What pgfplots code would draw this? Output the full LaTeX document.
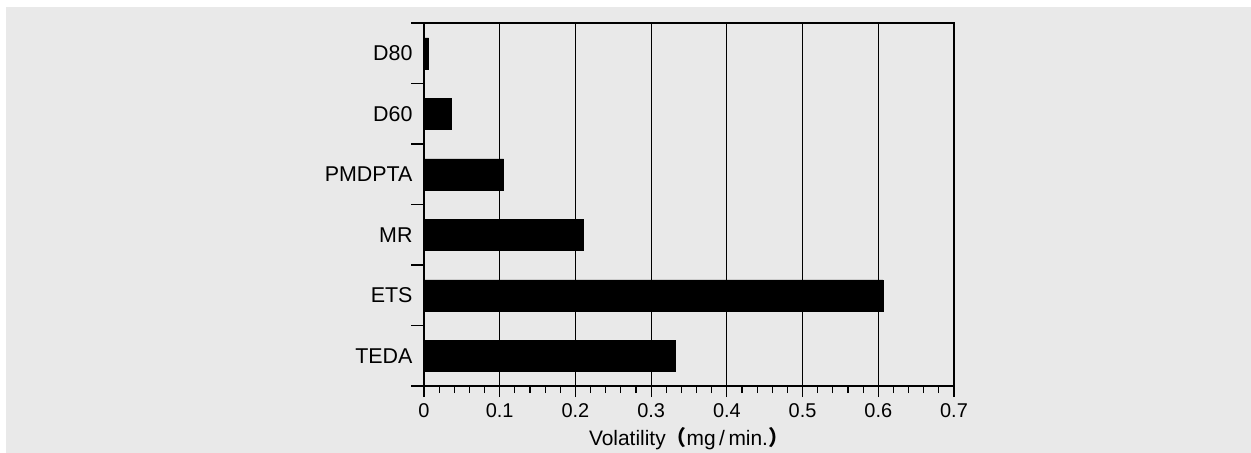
\documentclass[border=0pt]{standalone}
\usepackage{pgfplots}
\pgfplotsset{compat=1.18}
\usepackage{fontspec}
\setmainfont{Liberation Sans}
\newfontfamily\cjk{Noto Sans CJK SC}
\definecolor{bggray}{HTML}{E9E9E9}
\begin{document}
\begin{tikzpicture}
\useasboundingbox (0,0) rectangle (1251bp,453bp);
\fill[white] (0,0) rectangle (1251bp,453bp);
\fill[bggray] (6bp,0) rectangle (1251bp,446bp);
\begin{axis}[
  at={(424bp,67bp)}, anchor=south west,
  scale only axis,
  width=530bp, height=363bp,
  xmin=0, xmax=0.7,
  ymin=-0.5, ymax=5.5,
  xtick={0,0.1,...,0.7},
  xticklabels={0,0.1,0.2,0.3,0.4,0.5,0.6,0.7},
  minor x tick num=4,
  ytick={-0.5,0.5,1.5,2.5,3.5,4.5,5.5},
  yticklabels={TEDA,ETS,MR,PMDPTA,D60,D80,{}},
  yticklabel style={yshift=30.25bp, xshift=3bp, font=\fontsize{21.5}{25}\selectfont},
  xticklabel style={font=\fontsize{20}{24}\selectfont, yshift=-3bp},
  tick align=outside,
  tick pos=left,
  major tick length=11bp,
  minor tick length=7bp,
  xtick style={line width=1.1bp, black},
  ytick style={/pgfplots/major tick length=13bp, line width=1.1bp, black},
  minor x tick style={line width=1.1bp, black},
  xmajorgrids,
  major grid style={line width=1.1bp, black},
  axis line style={line width=1.1bp, black},
  /pgf/number format/assume math mode=true,
  xlabel={Volatility{\cjk\bfseries （}mg\,/\,min.{\cjk\bfseries ）}},
  xlabel style={font=\fontsize{21}{25}\selectfont, yshift=-3bp},
]
\addplot[xbar, bar width=31bp, fill=black, draw=black] coordinates {
  (0.332,0) (0.606,1) (0.210,2) (0.105,3) (0.036,4) (0.006,5)
};
\end{axis}
\end{tikzpicture}
\end{document}
